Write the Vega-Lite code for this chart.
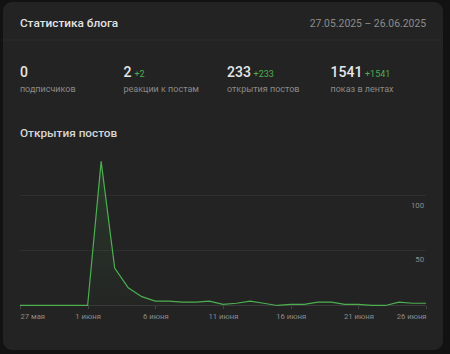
{
  "$schema": "https://vega.github.io/schema/vega-lite/v6.json",
  "width": 450,
  "height": 354,
  "autosize": {"type": "fit", "contains": "padding"},
  "padding": {"left": 2, "top": 2, "right": 6, "bottom": 4},
  "background": "#121212",
  "config": {
    "view": {"fill": "#232323", "stroke": null, "cornerRadius": 9},
    "text": {"font": "Roboto"}
  },
  "datasets": {
    "opens": [
      {"date": "2025-05-27", "opens": 0},
      {"date": "2025-05-28", "opens": 0},
      {"date": "2025-05-29", "opens": 0},
      {"date": "2025-05-30", "opens": 0},
      {"date": "2025-05-31", "opens": 0},
      {"date": "2025-06-01", "opens": 0},
      {"date": "2025-06-02", "opens": 131},
      {"date": "2025-06-03", "opens": 34},
      {"date": "2025-06-04", "opens": 16},
      {"date": "2025-06-05", "opens": 8},
      {"date": "2025-06-06", "opens": 4},
      {"date": "2025-06-07", "opens": 4},
      {"date": "2025-06-08", "opens": 3},
      {"date": "2025-06-09", "opens": 3},
      {"date": "2025-06-10", "opens": 4},
      {"date": "2025-06-11", "opens": 1},
      {"date": "2025-06-12", "opens": 2},
      {"date": "2025-06-13", "opens": 4},
      {"date": "2025-06-14", "opens": 2},
      {"date": "2025-06-15", "opens": 0},
      {"date": "2025-06-16", "opens": 1},
      {"date": "2025-06-17", "opens": 1},
      {"date": "2025-06-18", "opens": 3},
      {"date": "2025-06-19", "opens": 3},
      {"date": "2025-06-20", "opens": 1},
      {"date": "2025-06-21", "opens": 1},
      {"date": "2025-06-22", "opens": 0},
      {"date": "2025-06-23", "opens": 0},
      {"date": "2025-06-24", "opens": 3},
      {"date": "2025-06-25", "opens": 2},
      {"date": "2025-06-26", "opens": 2}
    ],
    "stats": [
      {"label": "подписчиков", "value": 0, "delta": ""},
      {"label": "реакции к постам", "value": 2, "delta": "+2"},
      {"label": "открытия постов", "value": 233, "delta": "+233"},
      {"label": "показ в лентах", "value": 1541, "delta": "+1541"}
    ],
    "ticks": [{"tick": 50}, {"tick": 100}]
  },
  "resolve": {"scale": {"x": "independent", "y": "independent", "xOffset": "independent"}},
  "layer": [
    {
      "data": {"values": [{}]},
      "mark": {"type": "rule", "color": "#2d2d2d", "strokeWidth": 1},
      "encoding": {
        "y": {"datum": "sep", "type": "nominal", "scale": {"type": "point", "domain": ["sep"], "range": [38, 38]}, "axis": null}
      }
    },
    {
      "data": {"name": "ticks"},
      "mark": {"type": "rule", "color": "#303030", "strokeWidth": 1},
      "encoding": {
        "x": {"datum": {"year": 2025, "month": 5, "date": 27, "utc": true}, "type": "temporal",
              "scale": {"type": "utc", "domain": [{"year": 2025, "month": 5, "date": 25, "hours": 18, "utc": true}, {"year": 2025, "month": 6, "date": 27, "hours": 6, "utc": true}]}, "axis": null},
        "x2": {"datum": {"year": 2025, "month": 6, "date": 26, "utc": true}},
        "y": {"field": "tick", "type": "quantitative", "scale": {"domain": [-40.5, 276], "nice": false, "zero": false}, "axis": null}
      }
    },
    {
      "data": {"values": [{}]},
      "mark": {"type": "rule", "color": "#3a3a3a", "strokeWidth": 1},
      "encoding": {
        "x": {"datum": {"year": 2025, "month": 5, "date": 27, "utc": true}, "type": "temporal",
              "scale": {"type": "utc", "domain": [{"year": 2025, "month": 5, "date": 25, "hours": 18, "utc": true}, {"year": 2025, "month": 6, "date": 27, "hours": 6, "utc": true}]}, "axis": null},
        "x2": {"datum": {"year": 2025, "month": 6, "date": 26, "utc": true}},
        "y": {"datum": 0, "type": "quantitative", "scale": {"domain": [-40.5, 276], "nice": false, "zero": false}, "axis": null}
      }
    },
    {
      "data": {"name": "opens"},
      "mark": {"type": "area", "interpolate": "linear",
               "fill": {"gradient": "linear", "x1": 0, "y1": 0, "x2": 0, "y2": 1,
                        "stops": [{"offset": 0, "color": "rgba(76,175,80,0.16)"}, {"offset": 1, "color": "rgba(76,175,80,0.02)"}]}},
      "encoding": {
        "x": {"field": "date", "type": "temporal",
              "scale": {"type": "utc", "domain": [{"year": 2025, "month": 5, "date": 25, "hours": 18, "utc": true}, {"year": 2025, "month": 6, "date": 27, "hours": 6, "utc": true}]}, "axis": null},
        "y": {"field": "opens", "type": "quantitative", "scale": {"domain": [-40.5, 276], "nice": false, "zero": false}, "axis": null},
        "y2": {"datum": 0}
      }
    },
    {
      "data": {"name": "opens"},
      "mark": {"type": "line", "color": "#4caf50", "strokeWidth": 1.2, "interpolate": "linear"},
      "encoding": {
        "x": {"field": "date", "type": "temporal",
              "scale": {"type": "utc", "domain": [{"year": 2025, "month": 5, "date": 25, "hours": 18, "utc": true}, {"year": 2025, "month": 6, "date": 27, "hours": 6, "utc": true}]},
              "axis": {
                "values": [
                  {"year": 2025, "month": 5, "date": 27, "utc": true},
                  {"year": 2025, "month": 6, "date": 1, "utc": true},
                  {"year": 2025, "month": 6, "date": 6, "utc": true},
                  {"year": 2025, "month": 6, "date": 11, "utc": true},
                  {"year": 2025, "month": 6, "date": 16, "utc": true},
                  {"year": 2025, "month": 6, "date": 21, "utc": true},
                  {"year": 2025, "month": 6, "date": 26, "utc": true}
                ],
                "labelExpr": "utcdate(datum.value) + (utcmonth(datum.value) == 4 ? ' мая' : ' июня')",
                "offset": -44.5,
                "domain": false,
                "grid": false,
                "ticks": true,
                "tickSize": 3,
                "tickColor": "#444444",
                "labelColor": "#8c8c8c",
                "labelFont": "Roboto",
                "labelFontSize": 7.7,
                "labelPadding": 4,
                "labelFlush": 20,
                "labelFlushOffset": 0,
                "title": null
              }},
        "y": {"field": "opens", "type": "quantitative", "scale": {"domain": [-40.5, 276], "nice": false, "zero": false}, "axis": null}
      }
    },
    {
      "data": {"name": "ticks"},
      "mark": {"type": "text", "align": "right", "baseline": "middle", "dx": -2, "dy": 10, "fontSize": 7.8, "color": "#8c8c8c"},
      "encoding": {
        "text": {"field": "tick", "type": "quantitative"},
        "x": {"datum": {"year": 2025, "month": 6, "date": 26, "utc": true}, "type": "temporal",
              "scale": {"type": "utc", "domain": [{"year": 2025, "month": 5, "date": 25, "hours": 18, "utc": true}, {"year": 2025, "month": 6, "date": 27, "hours": 6, "utc": true}]}, "axis": null},
        "y": {"field": "tick", "type": "quantitative", "scale": {"domain": [-40.5, 276], "nice": false, "zero": false}, "axis": null}
      }
    },
    {
      "data": {"values": [{"text": "Статистика блога"}]},
      "mark": {"type": "text", "align": "left", "baseline": "alphabetic", "fontSize": 11.8, "fontWeight": 500, "color": "#e2e2e2"},
      "encoding": {
        "text": {"field": "text"},
        "x": {"datum": {"year": 2025, "month": 5, "date": 27, "utc": true}, "type": "temporal",
              "scale": {"type": "utc", "domain": [{"year": 2025, "month": 5, "date": 25, "hours": 18, "utc": true}, {"year": 2025, "month": 6, "date": 27, "hours": 6, "utc": true}]}, "axis": null},
        "y": {"datum": "title", "type": "nominal", "scale": {"type": "point", "domain": ["title"], "range": [25, 25]}, "axis": null}
      }
    },
    {
      "data": {"values": [{"text": "27.05.2025 – 26.06.2025"}]},
      "mark": {"type": "text", "align": "right", "baseline": "alphabetic", "fontSize": 10.4, "color": "#8c8c8c"},
      "encoding": {
        "text": {"field": "text"},
        "x": {"datum": {"year": 2025, "month": 6, "date": 26, "utc": true}, "type": "temporal",
              "scale": {"type": "utc", "domain": [{"year": 2025, "month": 5, "date": 25, "hours": 18, "utc": true}, {"year": 2025, "month": 6, "date": 27, "hours": 6, "utc": true}]}, "axis": null},
        "y": {"datum": "date", "type": "nominal", "scale": {"type": "point", "domain": ["date"], "range": [25.3, 25.3]}, "axis": null}
      }
    },
    {
      "data": {"name": "stats"},
      "mark": {"type": "text", "align": "left", "baseline": "alphabetic", "fontSize": 14, "fontWeight": 500, "color": "#e6e6e6"},
      "encoding": {
        "text": {"field": "value", "type": "nominal"},
        "x": {"field": "label", "type": "nominal", "bandPosition": 0,
              "scale": {"type": "band", "domain": ["подписчиков", "реакции к постам", "открытия постов", "показ в лентах"], "paddingInner": 0, "paddingOuter": 0.125, "align": 0.654}, "axis": null},
        "y": {"datum": "number", "type": "nominal", "scale": {"type": "point", "domain": ["number"], "range": [75.3, 75.3]}, "axis": null}
      }
    },
    {
      "data": {"name": "stats"},
      "transform": [{"filter": "datum.delta != ''"}],
      "mark": {"type": "text", "align": "left", "baseline": "alphabetic", "fontSize": 9, "color": "#4caf50"},
      "encoding": {
        "text": {"field": "delta", "type": "nominal"},
        "x": {"field": "label", "type": "nominal", "bandPosition": 0,
              "scale": {"type": "band", "domain": ["подписчиков", "реакции к постам", "открытия постов", "показ в лентах"], "paddingInner": 0, "paddingOuter": 0.125, "align": 0.654}, "axis": null},
        "xOffset": {"field": "value", "type": "quantitative", "scale": {"type": "linear", "domain": [2, 233, 1541], "range": [11, 26.6, 34.5], "zero": false, "nice": false}},
        "y": {"datum": "delta", "type": "nominal", "scale": {"type": "point", "domain": ["delta"], "range": [74.8, 74.8]}, "axis": null}
      }
    },
    {
      "data": {"name": "stats"},
      "mark": {"type": "text", "align": "left", "baseline": "alphabetic", "fontSize": 9, "color": "#8a8a8a"},
      "encoding": {
        "text": {"field": "label", "type": "nominal"},
        "x": {"field": "label", "type": "nominal", "bandPosition": 0,
              "scale": {"type": "band", "domain": ["подписчиков", "реакции к постам", "открытия постов", "показ в лентах"], "paddingInner": 0, "paddingOuter": 0.125, "align": 0.654}, "axis": null},
        "y": {"datum": "label", "type": "nominal", "scale": {"type": "point", "domain": ["label"], "range": [89.7, 89.7]}, "axis": null}
      }
    },
    {
      "data": {"values": [{"text": "Открытия постов"}]},
      "mark": {"type": "text", "align": "left", "baseline": "alphabetic", "fontSize": 11.8, "fontWeight": 500, "color": "#d6d6d6"},
      "encoding": {
        "text": {"field": "text"},
        "x": {"datum": {"year": 2025, "month": 5, "date": 27, "utc": true}, "type": "temporal",
              "scale": {"type": "utc", "domain": [{"year": 2025, "month": 5, "date": 25, "hours": 18, "utc": true}, {"year": 2025, "month": 6, "date": 27, "hours": 6, "utc": true}]}, "axis": null},
        "y": {"datum": "section", "type": "nominal", "scale": {"type": "point", "domain": ["section"], "range": [134.7, 134.7]}, "axis": null}
      }
    }
  ]
}
